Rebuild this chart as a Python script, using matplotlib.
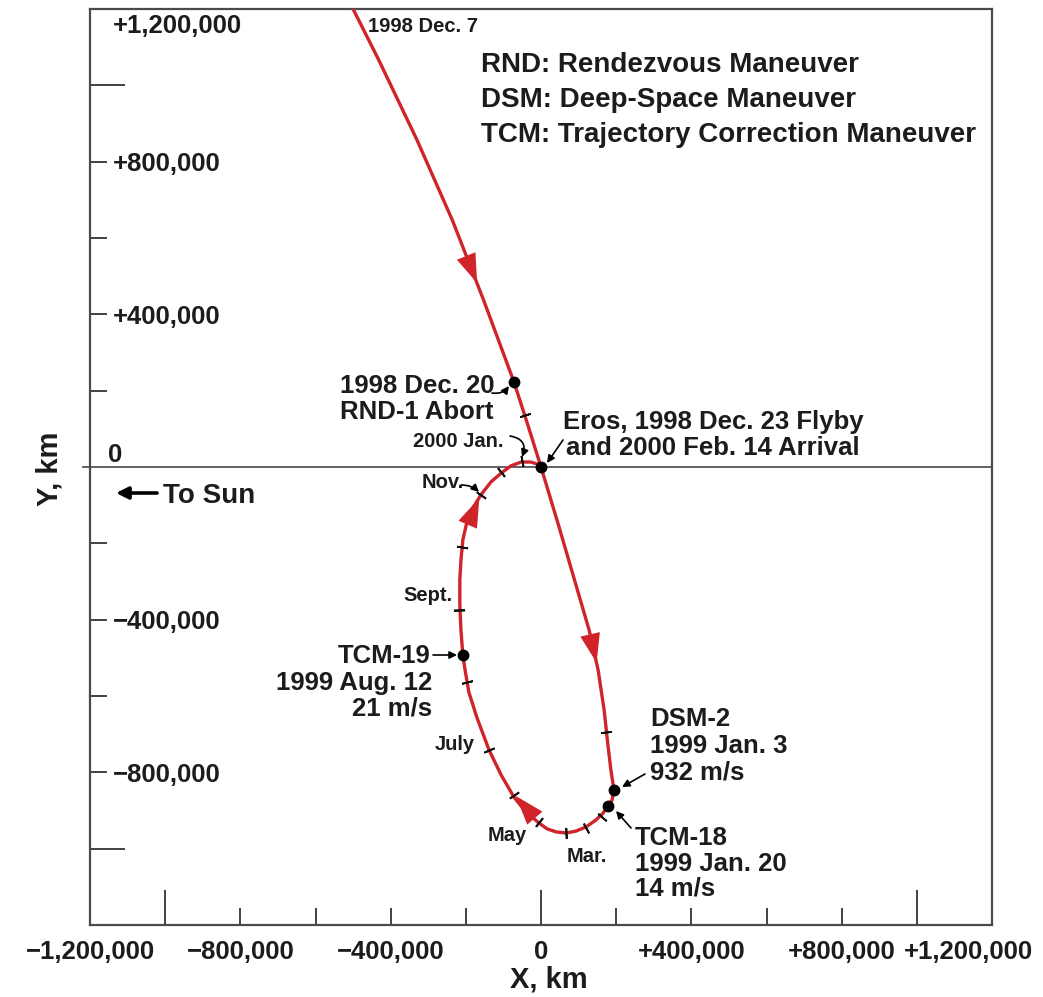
import matplotlib
matplotlib.use('Agg')
import matplotlib.pyplot as plt
import numpy as np
from matplotlib.patches import FancyArrowPatch
from matplotlib.ticker import FixedLocator

plt.rcParams['font.family'] = ['Liberation Sans', 'DejaVu Sans']

# ---------------- data (thousands of km) ----------------
K = 1000.0
traj_x = [-521, -500, -432, -330, -236, -153, -72, -35, 0,
          48, 93, 128, 152, 168, 178, 186, 194,
          189, 178, 165, 146, 120, 93, 67, 40, 16, -5, -40, -72,
          -106, -138, -170, -192, -202, -208, -213, -216, -216, -213, -208,
          -197, -181, -160, -133, -106, -80, -53, -27, -11, 0]
traj_y = [1239, 1200, 1067, 857, 647, 438, 223, 110, 0,
          -157, -309, -427, -532, -637, -728, -794, -846,
          -873, -888, -907, -925, -943, -954, -959, -956, -948, -933, -904, -865,
          -807, -742, -658, -590, -532, -493, -427, -362, -296, -244, -191,
          -144, -107, -73, -39, -16, 3, 13, 13, 8, 0]

event_names = ['RND-1 Abort', 'Eros', 'TCM-19', 'DSM-2', 'TCM-18']
event_x = [-72, 0, -208, 194, 178]
event_y = [223, 0, -493, -846, -888]

month_x = [-43, 173, 162, 120, 67, -5, -72, -138, -197, -218, -210, -160, -106, -51]
month_y = [136, -694, -917, -946, -959, -930, -859, -742, -563, -375, -210, -73, -13, 16]

dir_tail_x = [-200, 128, -5, -201]
dir_tail_y = [555, -427, -933, -165]
dir_tip_x = [-170, 148, -67, -164]
dir_tip_y = [482, -513, -862, -81]

xtick_vals = [-1200, -800, -400, 0, 400, 800, 1200]
xtick_labels = ['\u22121,200,000', '\u2212800,000', '\u2212400,000', '0',
                '+400,000', '+800,000', '+1,200,000']
ytick_vals = [1200, 800, 400, -400, -800]
ytick_labels = ['+1,200,000', '+800,000', '+400,000', '\u2212400,000', '\u2212800,000']
major_ticks = [-1000, 0, 1000]
minor_ticks = [-800, -600, -400, -200, 200, 400, 600, 800]

legend_lines = ['RND: Rendezvous Maneuver', 'DSM: Deep-Space Maneuver',
                'TCM: Trajectory Correction Maneuver']

# ---------------- figure ----------------
W, H = 1043, 997
RED = '#d0232a'
TXT = '#1c1c1c'
fig = plt.figure(figsize=(W / 100, H / 100), dpi=100)
ax = fig.add_axes([90 / W, 1 - 925 / H, (992 - 90) / W, (925 - 9) / H])
ax.set_xlim(-1200 * K, 1200 * K)
ax.set_ylim(-1200 * K, 1200 * K)

for s in ax.spines.values():
    s.set_color('#4a4a4a')
    s.set_linewidth(1.6)

for axis in (ax.xaxis, ax.yaxis):
    axis.set_major_locator(FixedLocator([v * K for v in major_ticks]))
    axis.set_minor_locator(FixedLocator([v * K for v in minor_ticks]))
ax.tick_params(which='major', direction='in', length=25, width=1.3, color='#333333',
               labelbottom=False, labelleft=False)
ax.tick_params(which='minor', direction='in', length=12, width=1.3, color='#333333')
ax.yaxis.set_major_locator(FixedLocator([-1000 * K, 1000 * K]))

ax.axhline(0, xmin=-0.008, xmax=1, color='#555555', lw=1.3, clip_on=False, zorder=1)

tx = np.array(traj_x) * K
ty = np.array(traj_y) * K
ax.plot(tx, ty, color=RED, lw=2.4, solid_joinstyle='round', solid_capstyle='round', zorder=3)

# direction arrowheads
for x0, y0, x1, y1 in zip(dir_tail_x, dir_tail_y, dir_tip_x, dir_tip_y):
    ax.add_patch(FancyArrowPatch((x0 * K, y0 * K), (x1 * K, y1 * K),
                                 arrowstyle='-|>,head_length=1.05,head_width=0.36',
                                 mutation_scale=20, color=RED, lw=0,
                                 shrinkA=0, shrinkB=0, zorder=4))

# month tick marks perpendicular to path
disp = ax.transData.transform(np.column_stack([tx, ty]))
for mx, my in zip(month_x, month_y):
    p = ax.transData.transform((mx * K, my * K))
    i = int(np.argmin(np.hypot(*(disp - p).T)))
    i0, i1 = max(i - 1, 0), min(i + 1, len(disp) - 1)
    v = disp[i1] - disp[i0]
    ang = np.degrees(np.arctan2(v[1], v[0]))
    ax.plot(mx * K, my * K, marker=(2, 2, ang), ms=8, mew=1.3, color='#111111', zorder=4)

ax.plot(np.array(event_x) * K, np.array(event_y) * K, 'o', color='black', ms=7.5, zorder=5)


def T(px, py, s, size, ha='left', rot=0):
    em = size * 100 / 72
    fig.text(px / W, 1 - (py + 0.36 * em) / H, s, fontsize=size, ha=ha, va='baseline',
             fontweight='bold', color=TXT, rotation=rot)


def A(x0, y0, x1, y1, rad=0.0, lw=1.2, ms=11):
    ax.annotate('', xy=(x1, H - y1), xytext=(x0, H - y0), xycoords='figure pixels',
                textcoords='figure pixels',
                arrowprops=dict(arrowstyle='-|>', color='black', lw=lw, mutation_scale=ms,
                                shrinkA=0, shrinkB=0, connectionstyle=f'arc3,rad={rad}'))


BIG, LEG, SMALL = 18.5, 20, 14.5

# tick labels
for v, lab in zip(xtick_vals, xtick_labels):
    px = ax.transData.transform((v * K, 0))[0]
    px = min(px, 968)
    T(px, 950, lab, BIG, ha='center')
for v, lab in zip(ytick_vals, ytick_labels):
    py = H - ax.transData.transform((0, v * K))[1]
    py = max(py, 24)
    T(113, py, lab, BIG)
T(108, 453, '0', BIG)

# axis labels
fig.text(549 / W, 1 - 979 / H, 'X, km', fontsize=21, ha='center', va='center',
         fontweight='bold', color=TXT)
fig.text(49 / W, 1 - 469 / H, 'Y, km', fontsize=21, ha='center', va='center',
         fontweight='bold', color=TXT, rotation=90)

# legend
for k, line in enumerate(legend_lines):
    T(481, 62 + 35 * k, line, LEG)

# annotations
T(368, 25, '1998 Dec. 7', SMALL)
T(340, 383.5, '1998 Dec. 20', BIG)
T(340, 410, 'RND-1 Abort', BIG)
A(492, 393, 509, 386, rad=0.3)
T(413, 440, '2000 Jan.', SMALL)
A(510, 436, 522, 457, rad=-0.6)
T(563, 420, 'Eros, 1998 Dec. 23 Flyby', BIG)
T(566, 446, 'and 2000 Feb. 14 Arrival', BIG)
A(563, 440, 547, 463)
T(422, 481, 'Nov.', SMALL)
A(461, 485, 479, 492, rad=-0.2)
T(403, 594, 'Sept.', SMALL)
T(430, 654, 'TCM-19', BIG, ha='right')
A(433, 655, 457, 655)
T(432, 681, '1999 Aug. 12', BIG, ha='right')
T(432, 706, '21 m/s', BIG, ha='right')
T(435, 743, 'July', SMALL)
T(488, 834, 'May', SMALL)
T(567, 855, 'Mar.', SMALL)
T(650, 717, 'DSM-2', BIG)
T(650, 744, '1999 Jan. 3', BIG)
T(650, 770, '932 m/s', BIG)
A(645, 774, 622, 787)
T(635, 836, 'TCM-18', BIG)
T(635, 862, '1999 Jan. 20', BIG)
T(635, 886, '14 m/s', BIG)
A(631, 828, 616, 811)
T(163, 493, 'To Sun', LEG)
A(157, 493, 116, 493, lw=2.6, ms=18)

fig.savefig('out.png', dpi=100)
